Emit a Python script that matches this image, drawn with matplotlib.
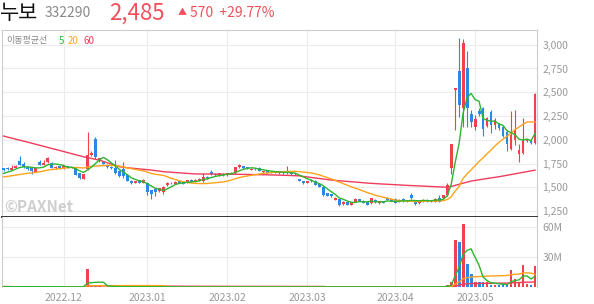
import matplotlib.pyplot as plt
import numpy as np
import pandas as pd

plt.rcParams['font.family'] = ['Noto Sans CJK KR', 'DejaVu Sans']

# daily candles, 2022-11-10 .. 2023-05-24
opens = [1700, 1705, 1685, 1705, 1775, 1750, 1718, 1705, 1665, 1768,
         1735, 1762, 1758, 1700, 1720, 1700, 1720, 1705, 1700, 1645,
         1590, 1690, 1842, 2010, 1778, 1765, 1738, 1718, 1700, 1672,
         1690, 1630, 1568, 1545, 1575, 1548, 1540, 1468, 1485, 1463,
         1455, 1520, 1550, 1538, 1565, 1558, 1548, 1578, 1560, 1572,
         1565, 1612, 1662, 1640, 1625, 1640, 1628, 1640, 1645, 1710,
         1722, 1712, 1685, 1695, 1700, 1660, 1672, 1665, 1650, 1645,
         1660, 1645, 1655, 1650, 1588, 1565, 1545, 1580, 1568, 1535,
         1505, 1435, 1428, 1368, 1372, 1320, 1345, 1318, 1345, 1375,
         1358, 1340, 1332, 1368, 1332, 1355, 1392, 1372, 1378, 1345,
         1380, 1352, 1415, 1350, 1330, 1352, 1368, 1355, 1350, 1382,
         1385, 1420, 1700, 2520, 2720, 2330, 2750, 2270, 2130, 2305,
         2330, 2145, 2290, 2160, 2165, 2130, 2080, 1900, 2000, 1850,
         1860, 1982, 1995, 1965]
highs = [1705, 1712, 1730, 1730, 1830, 1770, 1722, 1712, 1705, 1785,
         1785, 1815, 1762, 1720, 1725, 1725, 1726, 1718, 1705, 1650,
         1640, 2085, 1880, 2030, 1810, 1770, 1745, 1725, 1790, 1678,
         1768, 1640, 1575, 1570, 1580, 1590, 1560, 1475, 1490, 1495,
         1512, 1555, 1555, 1565, 1570, 1562, 1580, 1582, 1585, 1598,
         1645, 1618, 1685, 1645, 1650, 1645, 1652, 1660, 1715, 1745,
         1728, 1718, 1698, 1700, 1712, 1676, 1676, 1670, 1670, 1672,
         1665, 1720, 1660, 1655, 1592, 1570, 1570, 1588, 1572, 1540,
         1510, 1440, 1432, 1395, 1378, 1352, 1350, 1345, 1385, 1380,
         1362, 1345, 1388, 1372, 1360, 1360, 1398, 1378, 1382, 1375,
         1385, 1370, 1435, 1352, 1366, 1375, 1372, 1370, 1385, 1418,
         1420, 1548, 1960, 2545, 3075, 3060, 2935, 2315, 2260, 2330,
         2345, 2240, 2310, 2225, 2175, 2140, 2100, 2300, 2310, 1960,
         2225, 2010, 2000, 2495]
lows = [1675, 1685, 1680, 1700, 1730, 1705, 1685, 1640, 1660, 1730,
        1730, 1752, 1700, 1695, 1695, 1695, 1705, 1700, 1625, 1590,
        1585, 1680, 1830, 1800, 1770, 1745, 1705, 1690, 1640, 1610,
        1598, 1565, 1535, 1540, 1540, 1545, 1420, 1375, 1410, 1455,
        1430, 1515, 1535, 1532, 1545, 1530, 1545, 1555, 1555, 1568,
        1560, 1592, 1630, 1622, 1620, 1622, 1622, 1635, 1640, 1705,
        1695, 1688, 1680, 1682, 1668, 1655, 1650, 1650, 1645, 1640,
        1640, 1640, 1632, 1630, 1562, 1538, 1540, 1558, 1522, 1498,
        1412, 1405, 1400, 1362, 1305, 1315, 1312, 1312, 1340, 1355,
        1330, 1312, 1328, 1335, 1328, 1330, 1362, 1355, 1332, 1340,
        1345, 1348, 1380, 1318, 1325, 1348, 1350, 1350, 1345, 1345,
        1380, 1410, 1640, 2100, 2240, 2135, 2135, 2135, 2100, 2255,
        2040, 2130, 2070, 2110, 2105, 2030, 1885, 1890, 1944, 1770,
        1850, 1975, 1955, 1960]
closes = [1685, 1690, 1705, 1725, 1735, 1718, 1692, 1675, 1700, 1735,
          1758, 1810, 1706, 1716, 1700, 1720, 1710, 1712, 1630, 1595,
          1635, 1840, 1862, 1815, 1803, 1750, 1715, 1700, 1650, 1620,
          1615, 1570, 1540, 1565, 1545, 1572, 1455, 1430, 1445, 1490,
          1505, 1548, 1540, 1560, 1550, 1538, 1575, 1560, 1578, 1592,
          1610, 1598, 1638, 1628, 1645, 1628, 1648, 1655, 1710, 1732,
          1700, 1692, 1692, 1688, 1675, 1672, 1655, 1655, 1665, 1665,
          1645, 1655, 1640, 1635, 1568, 1542, 1565, 1562, 1528, 1502,
          1420, 1410, 1405, 1390, 1315, 1348, 1318, 1340, 1380, 1360,
          1335, 1318, 1382, 1340, 1355, 1335, 1368, 1360, 1338, 1370,
          1352, 1365, 1385, 1325, 1362, 1370, 1355, 1366, 1380, 1350,
          1415, 1522, 1955, 2540, 2365, 3015, 2330, 2190, 2215, 2275,
          2110, 2230, 2150, 2210, 2125, 2040, 1950, 2050, 2100, 1890,
          1995, 2000, 1962, 2485]
# volume in millions of shares
volumes = [0.4, 0.3, 0.3, 0.2, 0.5, 0.3, 0.2, 0.3, 0.2, 0.4,
           0.3, 0.4, 0.3, 0.2, 0.2, 0.2, 0.1, 0.1, 0.3, 0.3,
           0.6, 18.0, 2.5, 2.0, 0.8, 0.4, 0.3, 0.3, 0.4, 0.3,
           0.3, 0.3, 0.2, 0.2, 0.2, 0.2, 0.4, 0.3, 0.2, 0.2,
           0.2, 0.2, 0.1, 0.1, 0.1, 0.1, 0.2, 0.1, 0.1, 0.1,
           0.2, 0.1, 0.2, 0.1, 0.1, 0.1, 0.1, 0.1, 0.3, 0.2,
           0.1, 0.1, 0.1, 0.1, 0.1, 0.1, 0.1, 0.1, 0.1, 0.1,
           0.1, 0.2, 0.1, 0.1, 0.2, 0.2, 0.1, 0.1, 0.2, 0.2,
           0.3, 0.2, 0.1, 0.1, 0.3, 0.1, 0.1, 0.1, 0.2, 0.1,
           0.1, 0.1, 0.2, 0.1, 0.1, 0.1, 0.1, 0.1, 0.1, 0.1,
           0.1, 0.1, 0.3, 0.1, 0.1, 0.1, 0.1, 0.1, 0.2, 0.2,
           0.3, 2.0, 5.0, 47.0, 45.0, 63.0, 23.0, 13.0, 4.7, 4.7,
           4.7, 4.7, 2.3, 2.3, 1.7, 3.0, 2.3, 17.0, 8.3, 5.0,
           22.0, 3.3, 1.7, 21.0]
# closes of the 19 sessions before the first candle (seed for the 5/20 day lines)
prior_closes = [1585, 1570, 1590, 1605, 1580, 1575, 1600, 1615, 1595, 1590,
                1605, 1620, 1610, 1600, 1615, 1625, 1640, 1630, 1650]
# 60 day line as drawn (needs history before the window)
ma60 = [2039, 2028, 2018, 2007, 1996, 1986, 1975, 1964, 1953, 1943,
        1932, 1921, 1910, 1899, 1888, 1877, 1866, 1855, 1843, 1832,
        1821, 1812, 1803, 1794, 1785, 1771, 1757, 1744, 1730, 1716,
        1710, 1705, 1701, 1697, 1693, 1689, 1685, 1681, 1675, 1670,
        1664, 1661, 1658, 1655, 1652, 1649, 1646, 1643, 1640, 1640,
        1639, 1639, 1639, 1638, 1638, 1638, 1637, 1637, 1637, 1636,
        1635, 1635, 1634, 1633, 1633, 1632, 1631, 1631, 1630, 1629,
        1627, 1625, 1623, 1622, 1620, 1614, 1609, 1603, 1598, 1592,
        1587, 1581, 1576, 1572, 1569, 1565, 1562, 1558, 1555, 1551,
        1548, 1544, 1541, 1539, 1536, 1534, 1532, 1529, 1527, 1524,
        1522, 1520, 1518, 1516, 1514, 1512, 1510, 1508, 1506, 1504,
        1502, 1500, 1508, 1520, 1532, 1543, 1554, 1565, 1572, 1579,
        1585, 1592, 1598, 1605, 1611, 1618, 1626, 1634, 1641, 1649,
        1657, 1664, 1672, 1680]
month_ticks = [15, 36, 56, 76, 98, 118]
month_labels = ['2022.12', '2023.01', '2023.02', '2023.03', '2023.04', '2023.05']

RED = '#f2414b'
BLUE = '#2b88e6'
C5, C20, C60 = '#2fb52f', '#ffa31a', '#f03c5c'

o = np.array(opens, float)
h = np.array(highs, float)
l = np.array(lows, float)
c = np.array(closes, float)
v = np.array(volumes, float)
x = np.arange(len(c))
cols = np.where(c >= o, RED, BLUE)

allc = pd.Series(prior_closes + closes)
ma5 = allc.rolling(5).mean().values[len(prior_closes):]
ma20 = allc.rolling(20).mean().values[len(prior_closes):]
vs = pd.Series(v)
vma5 = vs.rolling(5, min_periods=1).mean()
vma20 = vs.rolling(20, min_periods=1).mean()
vma60 = vs.rolling(60, min_periods=1).mean()

fig = plt.figure(figsize=(5.94, 3.04), dpi=100)
ax = fig.add_axes([2 / 594, 1 - 217 / 304, 535 / 594, 187 / 304])
axv = fig.add_axes([2 / 594, 1 - 287 / 304, 535 / 594, 70 / 304])

# price panel
ax.vlines(x, l, h, color=cols, lw=0.8, zorder=3)
ax.bar(x, np.maximum(np.abs(c - o), 8), bottom=np.minimum(o, c), width=0.72,
       color=cols, zorder=4)
ax.plot(x, ma60, color=C60, lw=1.0, zorder=5)
ax.plot(x, ma20, color=C20, lw=1.0, zorder=5)
ax.plot(x, ma5, color=C5, lw=1.0, zorder=5)

ax.set_xlim(-0.4, 133.5)
ax.set_ylim(1187, 3155)
ax.set_yticks([1250, 1500, 1750, 2000, 2250, 2500, 2750, 3000])
ax.set_yticklabels(['1,250', '1,500', '1,750', '2,000', '2,250', '2,500', '2,750', '3,000'])
ax.set_xticks(month_ticks)
ax.set_xticklabels([])
ax.yaxis.tick_right()
ax.tick_params(axis='both', length=0, labelsize=7.5, colors='#999999', pad=4)
ax.grid(True, color='#ececec', lw=0.8, zorder=0)
for s in ['top', 'left', 'right']:
    ax.spines[s].set_color('#cccccc')
    ax.spines[s].set_linewidth(0.8)
ax.spines['bottom'].set_color('#333333')
ax.spines['bottom'].set_linewidth(1.4)

# volume panel
axv.bar(x, v, width=0.72, color=cols, zorder=3)
axv.plot(x, vma60, color=C60, lw=1.0, zorder=4)
axv.plot(x, vma20, color=C20, lw=1.0, zorder=4)
axv.plot(x, vma5, color=C5, lw=1.0, zorder=4)
axv.set_xlim(-0.4, 133.5)
axv.set_ylim(0, 70)
axv.set_yticks([30, 60])
axv.set_yticklabels(['30M', '60M'])
axv.set_xticks(month_ticks)
axv.set_xticklabels(month_labels)
axv.yaxis.tick_right()
axv.tick_params(axis='both', length=0, labelsize=7.5, colors='#999999', pad=4)
axv.grid(True, color='#ececec', lw=0.8, zorder=0)
axv.spines['top'].set_visible(False)
axv.spines['bottom'].set_visible(False)
for s in ['left', 'right']:
    axv.spines[s].set_color('#cccccc')
    axv.spines[s].set_linewidth(0.8)


def px(xp, yp):
    return xp / 594, 1 - yp / 304


# header
fig.text(*px(0, 13), '누보', fontsize=15, color='#111111', va='center', ha='left')
fig.text(*px(45, 13), '332290', fontsize=10, color='#8a8a8a', va='center', ha='left')
fig.text(*px(109, 13), '2,485', fontsize=16, color='#f0505a', va='center', ha='left')
fig.text(*px(178, 13), '▲', fontsize=6.5, color='#f0505a', va='center', ha='left')
fig.text(*px(190, 13), '570  +29.77%', fontsize=10, color='#f0505a', va='center', ha='left')

fig.text(*px(6, 41), '이동평균선', fontsize=6.5, color='#888888', va='center', ha='left')
fig.text(*px(59, 41), '5', fontsize=7, color=C5, va='center', ha='left')
fig.text(*px(68, 41), '20', fontsize=7, color=C20, va='center', ha='left')
fig.text(*px(83, 41), '60', fontsize=7, color=C60, va='center', ha='left')

fig.text(*px(4, 207), '©PAXNet', fontsize=11, fontweight='bold', color='#cfcfcf',
         va='center', ha='left')

plt.savefig('out.png', dpi=100)
